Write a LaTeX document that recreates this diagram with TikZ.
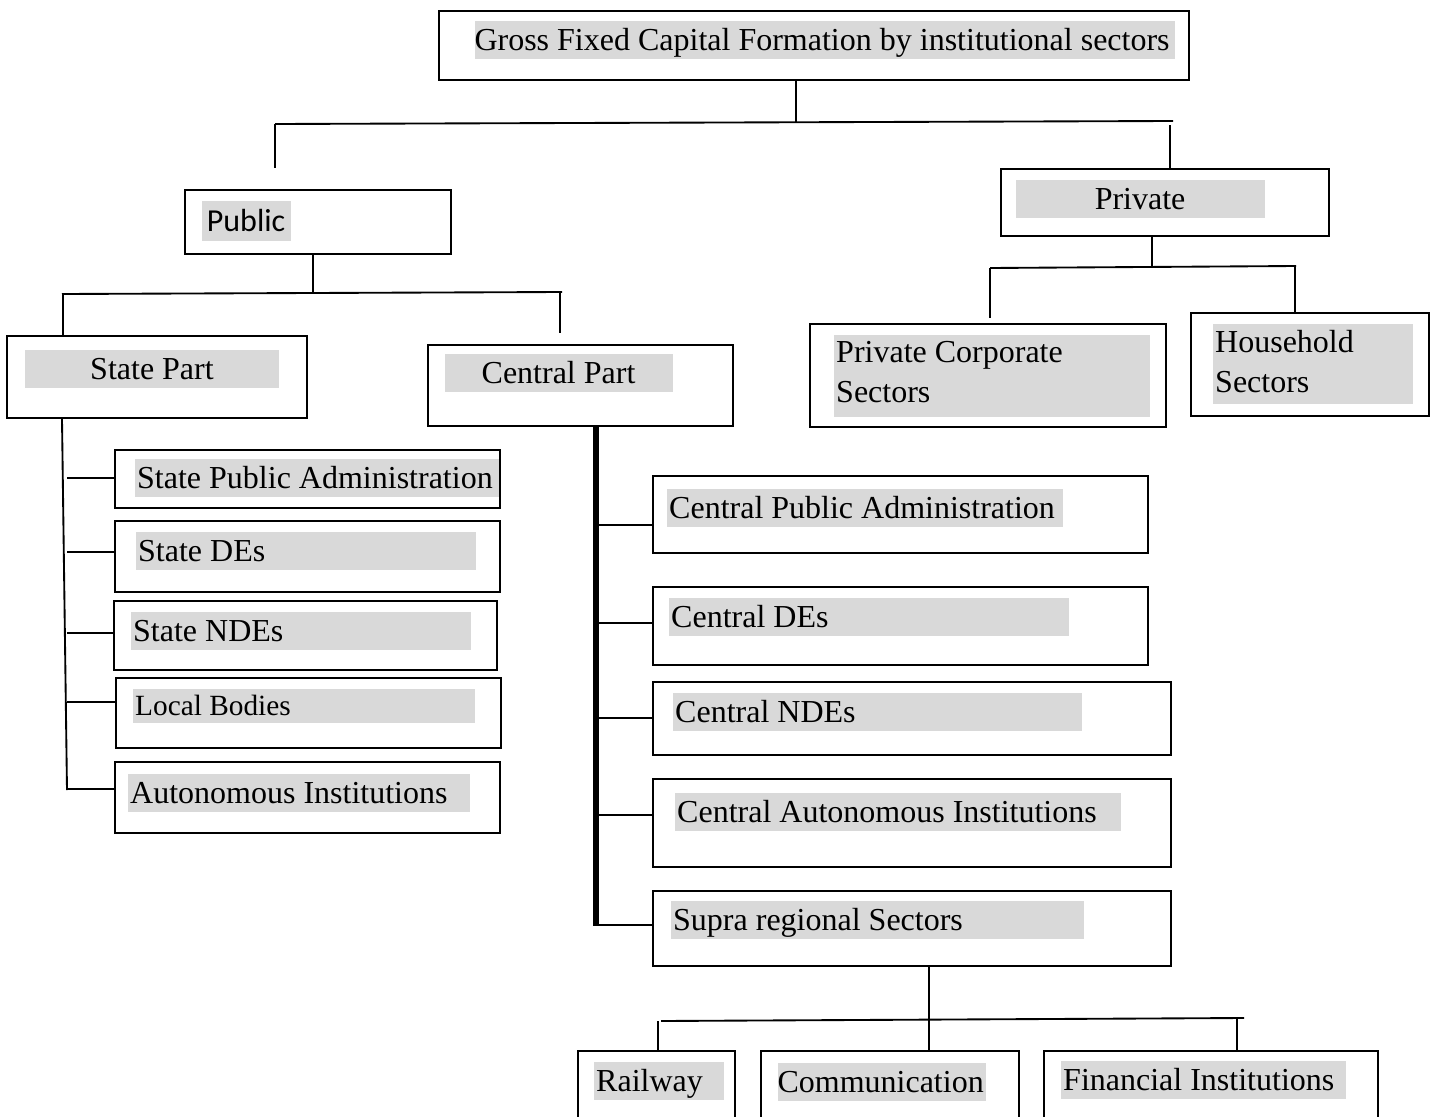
\documentclass[tikz,border=0pt]{standalone}
\usepackage{fontspec}
\setmainfont{Liberation Serif}
\newfontfamily\calibrifont{Carlito}
\definecolor{hlgray}{HTML}{D9D9D9}
\tikzset{
  box/.style={draw, line width=0.8pt, anchor=north west, inner sep=0pt},
  hl/.style={fill=hlgray, anchor=north west, inner xsep=1pt, inner ysep=0pt, align=flush left,
    text height=11.25pt, text depth=3pt, font=\fontsize{12}{15}\selectfont},
  link/.style={line width=0.7pt},
  spine/.style={line width=2.6pt}
}
\begin{document}
\begin{tikzpicture}[x=0.375pt, y=-0.375pt]
    \useasboundingbox (0,0) rectangle (1436,1117);
    \clip (0,0) rectangle (1436,1117);
    \node[box, minimum width=281.25pt, minimum height=25.875pt] (gfcf) at (438,10) {};
    \node[box, minimum width=99.75pt, minimum height=24pt] (public) at (184,189) {};
    \node[box, minimum width=123pt, minimum height=25.125pt] (private) at (1000,168) {};
    \node[box, minimum width=112.5pt, minimum height=30.75pt] (state) at (6,335) {};
    \node[box, minimum width=114.375pt, minimum height=30.375pt] (central) at (427,344) {};
    \node[box, minimum width=133.5pt, minimum height=38.625pt] (privcorp) at (809,323) {};
    \node[box, minimum width=89.25pt, minimum height=38.625pt] (household) at (1190,312) {};
    \node[box, minimum width=144.375pt, minimum height=21.75pt] (spa) at (114,449) {};
    \node[box, minimum width=144.375pt, minimum height=26.625pt] (sde) at (114,520) {};
    \node[box, minimum width=143.625pt, minimum height=25.875pt] (snde) at (113,600) {};
    \node[box, minimum width=144.375pt, minimum height=26.25pt] (lb) at (115,677) {};
    \node[box, minimum width=144.375pt, minimum height=26.625pt] (ai) at (114,761) {};
    \node[box, minimum width=185.625pt, minimum height=28.875pt] (cpa) at (652,475) {};
    \node[box, minimum width=185.625pt, minimum height=29.25pt] (cde) at (652,586) {};
    \node[box, minimum width=194.25pt, minimum height=27.375pt] (cnde) at (652,681) {};
    \node[box, minimum width=194.25pt, minimum height=33pt] (cai) at (652,778) {};
    \node[box, minimum width=194.25pt, minimum height=28.125pt] (supra) at (652,890) {};
    \node[box, minimum width=58.875pt, minimum height=37.5pt] (rail) at (577,1050) {};
    \node[box, minimum width=96.75pt, minimum height=37.5pt] (comm) at (760,1050) {};
    \node[box, minimum width=125.25pt, minimum height=37.5pt] (fin) at (1043,1050) {};

    \node[hl, inner xsep=0pt, text width=262.5pt] (gfcft) at (474,20) {Gross Fixed Capital Formation by institutional sectors};
    \node[hl, align=flush center, text width=31.4pt, text height=11.6pt, text depth=3.4pt,
      font=\calibrifont\fontsize{12}{15}\selectfont] (publict) at (201,200) {Public};
    \node[hl, align=flush center, text width=91.4pt] (privatet) at (1015,179) {Private};
    \node[hl, align=flush center, text width=93.6pt] (statet) at (24,349) {State Part};
    \node[hl, align=flush center, text width=83.5pt] (centralt) at (444,353) {Central Part};
    \node[hl, text width=116.5pt, text height=10.5pt, text depth=20.6pt] (privcorpt) at (833,334) {Private Corporate\\Sectors};
    \node[hl, text width=73pt, text height=10.9pt, text depth=19.1pt] (householdt) at (1212,323) {Household\\Sectors};
    \node[hl, text width=134.6pt] (spat) at (134,458) {State Public Administration};
    \node[hl, text width=125.5pt] (sdet) at (135,531) {State DEs};
    \node[hl, text width=125.5pt] (sndet) at (130,611) {State NDEs};
    \node[hl, text width=126.25pt, text height=10.1pt, text depth=3pt,
      font=\fontsize{11}{13}\selectfont] (lbt) at (132,688) {Local Bodies};
    \node[hl, text width=126.25pt] (ait) at (127,773) {Autonomous Institutions};
    \node[hl, text width=146.5pt] (cpat) at (666,488) {Central Public Administration};
    \node[hl, text width=148pt] (cdet) at (668,597) {Central DEs};
    \node[hl, text width=151.4pt] (cndet) at (672,692) {Central NDEs};
    \node[hl, text width=165.25pt] (cait) at (674,792) {Central Autonomous Institutions};
    \node[hl, text width=152.9pt] (suprat) at (670,900) {Supra regional Sectors};
    \node[hl, text width=46.75pt] (railt) at (593,1061) {Railway};
    \node[hl, inner xsep=0pt, text width=78pt] (commt) at (777,1062) {Communication};
    \node[hl, text width=104.9pt] (fint) at (1060,1060) {Financial Institutions};

    \coordinate (t1) at (796,122);
    \draw[link] (gfcf.south -| t1) -- (t1);
    \draw[link] (275,124) coordinate (t1l) -- (1173,121);
    \draw[link] (t1l) -- ++(0,44);
    \coordinate (privj) at (1170,125);
    \draw[link] (privj) -- (privj |- private.north);

    \coordinate (p1) at (313,293);
    \draw[link] (p1 |- public.south) -- (p1);
    \draw[link] (62,294) -- (562,292);
    \coordinate (statej) at (63,294);
    \draw[link] (statej) -- (statej |- state.north);
    \draw[link] (560,293) -- ++(0,40);

    \coordinate (s0) at (62,417);
    \draw[link] (state.south -| s0) -- (67,790);
    \foreach \b/\y in {spa/478,sde/552,snde/633,lb/702,ai/789}{
      \coordinate (st) at (67,\y);
      \draw[link] (st) -- (st -| \b.west);
    }

    \coordinate (c0) at (596,926);
    \draw[spine] (c0 |- central.south) -- (c0);
    \foreach \b/\y in {cpa/525,cde/623,cnde/718,cai/815,supra/925}{
      \coordinate (ct) at (598,\y);
      \draw[link] (ct) -- (ct -| \b.west);
    }

    \coordinate (v1) at (1152,267);
    \draw[link] (v1 |- private.south) -- (v1);
    \draw[link] (990,268) coordinate (v1l) -- (1296,266);
    \draw[link] (v1l) -- ++(0,50);
    \coordinate (hhj) at (1295,267);
    \draw[link] (hhj) -- (hhj |- household.north);

    \coordinate (u1) at (929,1021);
    \draw[link] (supra.south -| u1) -- (comm.north -| u1);
    \draw[link] (661,1021) -- (1244,1018);
    \coordinate (railj) at (658,1021);
    \draw[link] (railj) -- (railj |- rail.north);
    \coordinate (finj) at (1237,1018);
    \draw[link] (finj) -- (finj |- fin.north);
\end{tikzpicture}
\end{document}
